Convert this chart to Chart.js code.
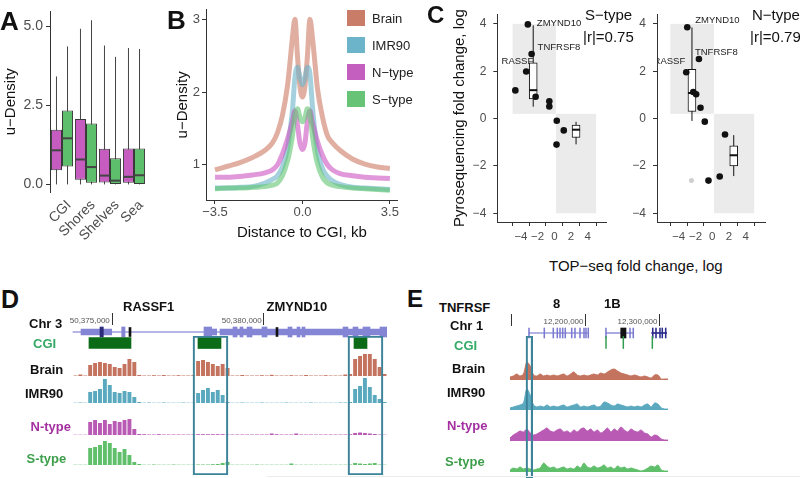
<!DOCTYPE html>
<html>
<head>
<meta charset="utf-8">
<script src="https://cdn.jsdelivr.net/npm/chart.js@4.4.1/dist/chart.umd.min.js"></script>
<style>
  body { margin: 0; width: 800px; height: 478px; position: relative; overflow: hidden; background: #fff;
         font-family: "Liberation Sans", Arial, sans-serif; }
  canvas { position: absolute; }
  .t { position: absolute; white-space: nowrap; line-height: 1; color: #111; }
</style>
</head>
<body>
<script>
// ---- A: u-density per CGI context ----
const regions = ['CGI', 'Shores', 'Shelves', 'Sea'];
const nTypeMin = [0, 0, 0, 0];
const nTypeQ1 = [0.45, 0.15, 0.06, 0.05];
const nTypeMed = [1.08, 0.79, 0.28, 0.24];
const nTypeQ3 = [1.73, 2.07, 1.13, 1.14];
const nTypeMax = [3.42, 4.93, 4.40, 4.32];
const sTypeMin = [0, 0, 0, 0];
const sTypeQ1 = [0.57, 0.05, 0.01, 0.0];
const sTypeMed = [1.46, 0.55, 0.12, 0.29];
const sTypeQ3 = [2.34, 1.93, 0.83, 1.14];
const sTypeMax = [4.37, 5.20, 4.04, 4.29];
const densityTicks = [0, 2.5, 5];

// ---- B: profile around CGI ----
const cgiDistance = [-3.5, -3, -2.5, -2, -1.5, -1.2, -1, -0.8, -0.6, -0.5, -0.4, -0.3, -0.2, -0.1, 0,
                     0.1, 0.2, 0.3, 0.4, 0.5, 0.6, 0.8, 1, 1.2, 1.5, 2, 2.5, 3, 3.5];
const brainDensity = [0.93, 0.98, 1.03, 1.1, 1.2, 1.3, 1.44, 1.68, 2.08, 2.4, 2.75, 3.0, 2.5, 2.08, 1.93,
                      2.08, 2.5, 3.0, 2.75, 2.4, 2.05, 1.66, 1.4, 1.3, 1.2, 1.08, 1.01, 0.97, 0.95];
const imrDensity = [0.68, 0.68, 0.69, 0.7, 0.75, 0.8, 0.85, 0.97, 1.22, 1.45, 1.75, 2.2, 2.34, 2.2, 2.1,
                    2.2, 2.34, 2.25, 1.8, 1.45, 1.2, 0.95, 0.84, 0.78, 0.73, 0.69, 0.68, 0.67, 0.66];
const nDensity = [0.83, 0.83, 0.84, 0.86, 0.89, 0.93, 1.0, 1.15, 1.35, 1.47, 1.6, 1.74, 1.55, 1.3, 1.21,
                  1.3, 1.6, 1.74, 1.58, 1.45, 1.32, 1.13, 1.0, 0.93, 0.88, 0.85, 0.83, 0.82, 0.81];
const sDensity = [0.67, 0.68, 0.68, 0.69, 0.7, 0.72, 0.75, 0.85, 1.05, 1.2, 1.4, 1.68, 1.77, 1.65, 1.59,
                  1.65, 1.77, 1.7, 1.4, 1.18, 1.02, 0.83, 0.75, 0.72, 0.7, 0.68, 0.67, 0.66, 0.65];
const profileYTicks = [1, 2, 3];
const profileXTicks = [-3.5, 0, 3.5];

// ---- C: TOP-seq vs pyrosequencing ----
const sTopSeq = [-4.67, -3.37, -3.17, -2.72, -2.24, -0.6, -0.6, 0.29, 1.13, 0.26];
const sPyro = [1.19, 1.99, 3.98, 2.73, 0.92, 0.73, 0.51, -0.09, -0.5, -1.1];
const sGenes = ['', 'RASSF', 'ZMYND10', 'TNFRSF8', '', '', '', '', '', ''];
const sBoxX = [-2.53, 2.6];
const sBoxMin = [0.5, -1.09], sBoxQ1 = [0.83, -0.8], sBoxMed = [1.2, -0.47], sBoxQ3 = [2.35, -0.28], sBoxMax = [3.94, -0.14];
const nTopSeq = [-3.1, -2.98, -1.59, -2.26, -1.92, -1.4, -0.89, 1.52, 0.89, -0.45];
const nPyro = [1.96, 3.86, 2.52, 1.12, 1.03, 0.46, -0.13, -0.67, -2.45, -2.62];
const nGenes = ['RASSF', 'ZMYND10', 'TNFRSF8', '', '', '', '', '', '', ''];
const nGrayTopSeq = [-2.48], nGrayPyro = [-2.62];
const nBoxX = [-2.42, 2.56];
const nBoxMin = [-0.1, -2.43], nBoxQ1 = [0.3, -2.0], nBoxMed = [1.08, -1.55], nBoxQ3 = [2.08, -1.15], nBoxMax = [3.85, -0.7];
const shadeRegions = [[-5, 0.2, 0.2, 4], [0.2, 5, -4, 0.2]];
const foldTicks = [-4, -2, 0, 2, 4];

// ---- D: RASSF1 / ZMYND10 locus (chr3) ----
const dRange = [50373717, 50384048];
const dRulerRange = [50373289, 50384048];
const dRuler = [50375000, 50380000];
const dGeneLine = [[50373717, 50384048]];
const dGeneBody = [[50373980, 50374990], [50378280, 50378444], [50378553, 50384048]];
const dGeneExon = [[50375319, 50375428], [50378027, 50378280], [50378981, 50379113], [50379211, 50379310],
                   [50379442, 50379606], [50379935, 50380100], [50380790, 50380922], [50381087, 50381185],
                   [50381251, 50381350], [50382600, 50382764], [50382929, 50383093], [50383258, 50383488],
                   [50383817, 50384048]];
const dGeneDark = [[50374605, 50374714]];
const dGeneBlack = [[50375559, 50375625], [50380396, 50380461]];
const dCgi = [[50374243, 50375625], [50377829, 50378586], [50382962, 50383390]];
const dFrames = [[50377665, 50378816], [50382764, 50383916]];
const dBrain = [0.5, 1.5, 0.5, 11, 13, 14, 13, 12, 9, 8, 12, 17, 14, 1, 0.5, 0.5, 0.8, 0.5, 1, 0.5, 0.5, 0.8, 0.5, 0.5, 0.8,
                15, 16, 14, 12, 10, 12, 8, 0.5, 0.5, 1, 0.5, 0.5, 0.5, 0.8, 0.5, 1.2, 0.5, 0.5, 0.5, 0.8, 0.5, 0.5, 1,
                0.5, 0.5, 0.5, 0.8, 0.5, 0.5, 0.5, 1.5, 2, 17, 20, 22, 22, 17, 9, 2];
const dImr = [0.3, 0.5, 0.3, 11, 12, 14, 24, 18, 11, 10, 12, 11, 6, 1, 0.3, 0.5, 0.3, 0.3, 0.5, 0.3, 0.3, 0.3, 0.5, 0.3, 0.3,
              10, 13, 15, 11, 13, 8, 1, 0.3, 0.3, 0.5, 0.3, 0.3, 0.3, 0.5, 0.3, 0.3, 0.3, 0.3, 0.5, 0.3, 0.3, 0.3, 0.3,
              0.5, 0.3, 0.3, 0.3, 0.3, 0.3, 0.5, 0.5, 1, 14, 17, 25, 16, 8, 4, 1];
const dNType = [0.3, 0.3, 0.3, 13, 15, 12, 15, 11, 14, 13, 15, 16, 6, 1, 0.8, 0.5, 0.5, 0.8, 0.5, 0.5, 0.5, 0.5, 0.5, 0.5, 0.5,
                0.8, 0.8, 0.8, 0.8, 0.8, 0.8, 0.5, 0.5, 0.5, 0.5, 0.5, 0.5, 0.5, 0.5, 0.5, 1.5, 0.8, 0.5, 0.5, 0.5, 1.5, 0.5,
                0.5, 0.5, 0.5, 0.5, 0.5, 0.5, 0.5, 0.5, 0.5, 0.8, 2, 2.5, 2, 1.5, 1, 0.5, 0.3];
const dSType = [0.3, 0.3, 0.3, 17, 18, 20, 24, 22, 17, 13, 16, 10, 3, 1, 0.3, 0.3, 0.5, 0.3, 0.3, 0.3, 0.5, 0.3, 0.3, 0.3, 0.3,
                0.5, 0.5, 0.5, 0.8, 1, 2, 3, 0.3, 0.3, 0.3, 0.3, 0.3, 0.5, 0.3, 0.3, 0.3, 0.3, 0.3, 0.3, 1.5, 0.3, 0.3, 0.3,
                0.3, 0.3, 0.3, 0.3, 0.3, 0.3, 0.3, 0.3, 0.5, 2, 1.5, 1, 1.5, 2, 0.5, 0.3];

// ---- E: TNFRSF8 / TNFRSF1B locus (chr1) ----
const eRange = [12097703, 12311218];
const eRuler = [12100000, 12200000, 12300000];
const eRulerLabeled = [12200000, 12300000];
const eGeneLine = [[12123379, 12203517], [12227437, 12264330]];
const eGeneLine3 = [[12289196, 12309467]];
const eGeneMarks = [[12122800, 12124000], [12143450, 12144650], [12155600, 12156800], [12161000, 12162200],
                    [12164700, 12165900], [12168300, 12169500], [12171800, 12173000], [12180500, 12181700],
                    [12184900, 12186100], [12191700, 12192900], [12197100, 12198300], [12199800, 12201000],
                    [12202900, 12204100], [12226800, 12228000], [12259300, 12260500], [12263700, 12264900]];
const eGeneBlack = [[12247303, 12254465]];
const eGeneMarks3 = [[12290000, 12291200], [12294400, 12295600], [12299800, 12301000], [12302900, 12304100],
                     [12307500, 12308700]];
const eCgi = [[12226900, 12228000], [12250300, 12251400], [12289500, 12290600]];
const eFrames = [[12119325, 12128379]];
const eBrain = [3, 4, 6, 4, 6, 18, 14, 5, 4, 6, 4, 5, 4, 5, 4, 5, 6, 4, 6, 8, 5, 4, 5, 4, 5, 6, 5, 7, 6, 8, 10, 11,
                9, 7, 6, 5, 4, 5, 4, 3, 4, 3, 2, 5, 5, 1, 1, 1];
const eImr = [2, 3, 4, 5, 7, 21, 15, 5, 3, 4, 3, 5, 3, 4, 3, 4, 5, 3, 4, 5, 6, 3, 4, 3, 4, 5, 3, 4, 8, 7, 5, 4,
              6, 5, 4, 3, 4, 3, 4, 3, 5, 6, 3, 7, 6, 2, 1, 1];
const eNType = [3, 6, 8, 10, 9, 12, 8, 6, 7, 9, 11, 13, 10, 9, 11, 12, 9, 10, 8, 11, 9, 12, 13, 10, 12, 9, 11, 8,
                10, 13, 9, 12, 10, 14, 11, 9, 12, 10, 9, 11, 8, 7, 4, 6, 5, 2, 1, 1];
const eSType = [2, 4, 3, 5, 3, 4, 3, 2, 3, 4, 9, 6, 4, 5, 3, 4, 5, 3, 4, 3, 6, 4, 9, 5, 4, 6, 4, 5, 7, 4, 5, 3,
                6, 4, 5, 3, 4, 3, 2, 1, 2, 4, 6, 5, 7, 2, 1, 1];

Chart.defaults.font.family = '"Liberation Sans", Arial, sans-serif';
Chart.defaults.color = '#4d4d4d';

const minus = s => String(s).replace('-', '\u2212');
const pairs = (xs, ys) => xs.map((x, i) => ({x, y: ys[i]}));
const commas = v => String(v).replace(/\B(?=(\d{3})+(?!\d))/g, ',');

function mk(x, y, w, h) {
  const c = document.createElement('canvas');
  c.width = w; c.height = h;
  c.style.left = x + 'px'; c.style.top = y + 'px';
  document.body.appendChild(c);
  return c;
}

function txt(s, x, y, size, css) {
  const d = document.createElement('div');
  d.className = 't';
  d.textContent = s;
  d.style.cssText = `left:${x}px;top:${y - size * 0.49}px;font-size:${size}px;` + (css || '');
  document.body.appendChild(d);
}

function common(pad) {
  return {
    responsive: false, animation: false, events: [],
    layout: {autoPadding: false, padding: pad || 0},
    plugins: {legend: {display: false}, tooltip: {enabled: false}}
  };
}

function axis(extra) {
  return Object.assign({
    border: {display: true, color: '#333', width: 1},
    grid: {display: true, drawOnChartArea: false, tickLength: 4, color: '#333'},
  }, extra);
}

// whiskers behind boxes, medians on top
function drawWhisk(chart, medians) {
  const ctx = chart.ctx;
  chart.data.datasets.forEach((ds, di) => {
    if (!ds.whisk) return;
    const meta = chart.getDatasetMeta(di);
    const y = chart.scales[meta.yAxisID];
    ctx.save();
    ctx.strokeStyle = ds.whisk.color;
    meta.data.forEach((bar, i) => {
      const hw = bar.width / 2;
      ctx.beginPath();
      if (medians) {
        ctx.lineWidth = 2;
        const my = y.getPixelForValue(ds.whisk.med[i]);
        ctx.moveTo(bar.x - hw, my); ctx.lineTo(bar.x + hw, my);
      } else {
        ctx.lineWidth = 1;
        ctx.moveTo(bar.x, y.getPixelForValue(ds.whisk.max[i]));
        ctx.lineTo(bar.x, y.getPixelForValue(ds.whisk.min[i]));
      }
      ctx.stroke();
    });
    ctx.restore();
  });
}
const whiskerPlugin = {
  id: 'whiskers',
  beforeDatasetsDraw: c => drawWhisk(c, false),
  afterDatasetsDraw: c => drawWhisk(c, true)
};

const shadePlugin = {
  id: 'shade',
  beforeDraw(chart) {
    const {ctx, scales: {x, y}} = chart;
    ctx.save();
    ctx.fillStyle = '#ebebeb';
    shadeRegions.forEach(([x0, x1, y0, y1]) => {
      const px0 = x.getPixelForValue(x0), px1 = x.getPixelForValue(x1);
      const py0 = y.getPixelForValue(y0), py1 = y.getPixelForValue(y1);
      ctx.fillRect(px0, py1, px1 - px0, py0 - py1);
    });
    ctx.restore();
  }
};

const tagPlugin = {
  id: 'tags',
  afterDatasetsDraw(chart) {
    const {ctx, chartArea: a} = chart;
    chart.data.datasets.forEach((ds, di) => {
      if (!ds.tags) return;
      const meta = chart.getDatasetMeta(di);
      ctx.save();
      ctx.beginPath(); ctx.rect(a.left, a.top, a.right - a.left, a.bottom - a.top); ctx.clip();
      ctx.font = '9.5px "Liberation Sans", Arial, sans-serif';
      ctx.fillStyle = '#222';
      ctx.textBaseline = 'middle';
      ds.tags.forEach((t, i) => {
        if (!t) return;
        const [dx, dy, align] = ds.tagPos[t];
        ctx.textAlign = align;
        ctx.fillText(t, meta.data[i].x + dx, meta.data[i].y + dy);
      });
      ctx.restore();
    });
  }
};

// ---------- panel A ----------
new Chart(mk(0, 0, 150, 250), {
  type: 'bar',
  data: {
    labels: regions,
    datasets: [
      {data: regions.map((r, i) => [nTypeQ1[i], nTypeQ3[i]]), backgroundColor: '#c65cc0', borderColor: '#3a3a3a',
       borderWidth: 1, borderSkipped: false, categoryPercentage: 0.92, barPercentage: 1,
       whisk: {min: nTypeMin, med: nTypeMed, max: nTypeMax, color: '#444'}},
      {data: regions.map((r, i) => [sTypeQ1[i], sTypeQ3[i]]), backgroundColor: '#5dbf6c', borderColor: '#3a3a3a',
       borderWidth: 1, borderSkipped: false, categoryPercentage: 0.92, barPercentage: 1,
       whisk: {min: sTypeMin, med: sTypeMed, max: sTypeMax, color: '#444'}}
    ]
  },
  plugins: [whiskerPlugin],
  options: Object.assign(common({right: 4}), {
    scales: {
      x: {grid: {display: false}, border: {display: false},
          ticks: {font: {size: 14}, minRotation: 45, maxRotation: 45, autoSkip: false, padding: -3, labelOffset: 7},
          afterFit: s => { s.height = 58; }},
      y: axis({min: -0.24, max: 5.48,
          afterBuildTicks: s => { s.ticks = densityTicks.map(v => ({value: v})); },
          ticks: {font: {size: 14}, padding: 3, callback: v => v.toFixed(1)},
          title: {display: true, text: 'u\u2212Density', color: '#111', font: {size: 15}, padding: {top: 2, bottom: 0}},
          afterFit: s => { s.width = 50; }})
    }
  })
});

// ---------- panel B ----------
const profileSeries = [
  ['Brain', brainDensity, 'rgba(204,122,100,0.6)', '#c97d69', 4],
  ['IMR90', imrDensity, 'rgba(105,178,202,0.6)', '#6cb4c9', 3],
  ['N\u2212type', nDensity, 'rgba(204,84,194,0.6)', '#c45fbf', 2],
  ['S\u2212type', sDensity, 'rgba(95,196,112,0.6)', '#67c476', 1]
];
new Chart(mk(170, 0, 230, 250), {
  type: 'line',
  data: {datasets: profileSeries.map(([label, ys, color, key, order]) => ({
    label, data: pairs(cgiDistance, ys), borderColor: color, order
  }))},
  options: Object.assign(common({right: 2}), {
    elements: {point: {radius: 0}, line: {borderWidth: 5, cubicInterpolationMode: 'monotone'}},
    scales: {
      x: axis({type: 'linear', min: -3.86, max: 3.82,
          afterBuildTicks: s => { s.ticks = profileXTicks.map(v => ({value: v})); },
          ticks: {font: {size: 13}, padding: 1, callback: v => minus(v.toFixed(1))},
          title: {display: true, text: 'Distance to CGI, kb', color: '#111', font: {size: 15}, padding: {top: 0, bottom: 8}},
          afterFit: s => { s.height = 50; }}),
      y: axis({min: 0.516, max: 3.13,
          afterBuildTicks: s => { s.ticks = profileYTicks.map(v => ({value: v})); },
          ticks: {font: {size: 13}, padding: 2},
          title: {display: true, text: 'u\u2212Density', color: '#111', font: {size: 15}, padding: {top: 4, bottom: 0}},
          afterFit: s => { s.width = 36; }})
    }
  })
});
profileSeries.forEach(([label, ys, color, key], i) => {
  const d = document.createElement('div');
  d.style.cssText = `position:absolute;left:347px;top:${10 + i * 27}px;width:18px;height:16px;background:${key}`;
  document.body.appendChild(d);
  txt(label, 372, 18 + i * 27, 13, 'color:#222');
});

// ---------- panel C ----------
function foldPanel(cfg) {
  new Chart(mk(cfg.left, 0, cfg.width, 250), {
    type: 'scatter',
    data: {datasets: [
      {data: pairs(cfg.px, cfg.py), backgroundColor: '#111', borderWidth: 0, pointRadius: 3.3,
       tags: cfg.tags, tagPos: cfg.tagPos},
      {data: pairs(cfg.gx || [], cfg.gy || []), backgroundColor: '#cfcfcf', borderWidth: 0, pointRadius: 2.5},
      {type: 'bar', data: cfg.box.x.map((x, i) => ({x, y: [cfg.box.q1[i], cfg.box.q3[i]]})),
       backgroundColor: '#fff', borderColor: '#111', borderWidth: 1, borderSkipped: false, barThickness: 8,
       whisk: {min: cfg.box.min, med: cfg.box.med, max: cfg.box.max, color: '#111'}}
    ]},
    plugins: [shadePlugin, whiskerPlugin, tagPlugin],
    options: Object.assign(common({right: cfg.padR}), {
      scales: {
        x: axis({type: 'linear', min: cfg.xMin, max: cfg.xMax,
            afterBuildTicks: s => { s.ticks = foldTicks.map(v => ({value: v})); },
            ticks: {font: {size: 11.5}, padding: 4, callback: v => minus(v)},
            afterFit: s => { s.height = 28; }}),
        y: axis({min: -4.37, max: 4.41,
            afterBuildTicks: s => { s.ticks = foldTicks.map(v => ({value: v})); },
            ticks: {font: {size: 12}, padding: 7, callback: v => minus(v)},
            title: {display: cfg.title, text: 'Pyrosequencing fold change, log', color: '#111', font: {size: 15},
                    padding: {top: 1, bottom: 0}},
            afterFit: s => { s.width = cfg.yW; }})
      }
    })
  });
}
foldPanel({left: 450, width: 160, yW: 47.3, padR: 3.3, xMin: -5.52, xMax: 4.96, title: true,
  px: sTopSeq, py: sPyro, tags: sGenes,
  tagPos: {RASSF: [7, -10.5, 'right'], ZMYND10: [9, -1.5, 'left'], TNFRSF8: [6, -7, 'left']},
  box: {x: sBoxX, min: sBoxMin, q1: sBoxQ1, med: sBoxMed, q3: sBoxQ3, max: sBoxMax}});
foldPanel({left: 620, width: 150, yW: 37, padR: 5, xMin: -5.3, xMax: 5.0, title: false,
  px: nTopSeq, py: nPyro, gx: nGrayTopSeq, gy: nGrayPyro, tags: nGenes,
  tagPos: {RASSF: [-1, -11, 'right'], ZMYND10: [8, -6.5, 'left'], TNFRSF8: [-4, -7, 'left']},
  box: {x: nBoxX, min: nBoxMin, q1: nBoxQ1, med: nBoxMed, q3: nBoxQ3, max: nBoxMax}});

// ---------- genome browser tracks (D, E) ----------
function blockChart(x, y, w, h, range, layers, ruler) {
  const scaleX = {type: 'linear', min: range[0], max: range[1], display: false};
  if (ruler) Object.assign(scaleX, {
    display: true, position: 'top',
    border: {display: false},
    grid: {display: true, drawOnChartArea: false, tickLength: 12, color: '#333'},
    afterBuildTicks: s => { s.ticks = ruler.ticks.map(v => ({value: v})); },
    ticks: {align: 'end', padding: -13, maxRotation: 0, color: '#555', font: {size: 8},
            callback: v => ruler.labeled.includes(v) ? commas(v) + ' ' : ''},
    afterFit: s => { s.height = 14; }
  });
  new Chart(mk(x, y, w, h), {
    type: 'bar',
    data: {labels: ['g'], datasets: layers.map(l => ({
      data: l.blocks.map(b => ({x: b, y: 'g'})),
      backgroundColor: l.fill || 'rgba(0,0,0,0)', borderColor: l.stroke || 'rgba(0,0,0,0)',
      borderWidth: l.stroke ? 1.5 : 0, borderSkipped: false, barThickness: l.h, grouped: false
    }))},
    options: Object.assign(common(), {indexAxis: 'y', scales: {x: scaleX, y: {display: false}}})
  });
}

function trackChart(x, y, w, vals, color, kind) {
  new Chart(mk(x, y, w, 25), {
    type: kind,
    data: {labels: vals.map((v, i) => i), datasets: [{
      data: vals, backgroundColor: color, borderColor: color, borderWidth: kind === 'line' ? 1 : 0,
      fill: 'origin', pointRadius: 0, tension: 0.3, barPercentage: 0.8, categoryPercentage: 1
    }]},
    options: Object.assign(common(), {scales: {x: {display: false}, y: {display: false, min: 0, max: 25}}})
  });
}

const trackColors = {brain: '#c4735e', imr: '#5aa9bf', n: '#b95ab5', s: '#5fbf6a'};

// D
blockChart(60, 311, 327, 28, dRulerRange, [
  {blocks: dGeneDark, fill: '#2b2b7a', h: 10},
  {blocks: dGeneBlack, fill: '#111', h: 9},
  {blocks: dGeneExon, fill: '#8585d6', h: 10},
  {blocks: dGeneBody, fill: '#8585d6', h: 6},
  {blocks: dGeneLine, fill: '#9c9ce0', h: 1}
], {ticks: dRuler, labeled: dRuler});
blockChart(73, 337, 314, 12, dRange, [{blocks: dCgi, fill: '#0b6b16', h: 11}]);
trackChart(73, 351, 314, dBrain, trackColors.brain, 'bar');
trackChart(73, 378, 314, dImr, trackColors.imr, 'bar');
trackChart(73, 410, 314, dNType, trackColors.n, 'bar');
trackChart(73, 440, 314, dSType, trackColors.s, 'bar');
blockChart(73, 336, 314, 139, dRange, [{blocks: dFrames, stroke: '#3c8299', h: 139}]);

// E
blockChart(510, 312, 158, 28, eRange, [
  {blocks: eGeneBlack, fill: '#111', h: 10},
  {blocks: eGeneMarks3, fill: '#2a2a8c', h: 10},
  {blocks: eGeneMarks, fill: '#7a7ad0', h: 10},
  {blocks: eGeneLine3, fill: '#2a2a8c', h: 1},
  {blocks: eGeneLine, fill: '#9a9ade', h: 1}
], {ticks: eRuler, labeled: eRulerLabeled});
blockChart(510, 336, 158, 13, eRange, [{blocks: eCgi, fill: '#2e9e4e', h: 12}]);
trackChart(510, 355, 158, eBrain, trackColors.brain, 'line');
trackChart(510, 385, 158, eImr, trackColors.imr, 'line');
trackChart(510, 416, 158, eNType, trackColors.n, 'line');
trackChart(510, 447, 158, eSType, trackColors.s, 'line');
blockChart(510, 336, 158, 142, eRange, [{blocks: eFrames, stroke: '#3c8299', h: 142}]);

// ---------- text ----------
const B = 'font-weight:bold;';
txt('A', 0, 21, 26, B);
txt('B', 167, 20, 26, B);
txt('C', 427, 15, 24, B);
txt('D', 1, 299, 25, B);
txt('E', 407, 299, 24, B);

txt('S\u2212type', 585, 14, 15);
txt('|r|=0.75', 583, 36, 15);
txt('N\u2212type', 752, 14, 15);
txt('|r|=0.79', 750, 36, 15);
txt('TOP\u2212seq fold change, log', 549, 265, 15);

txt('RASSF1', 123, 306.5, 13, B);
txt('ZMYND10', 266.5, 306.5, 13, B);
txt('Chr 3', 29, 323, 13, B);
txt('CGI', 33, 343, 13, B + 'color:#33aa66');
txt('Brain', 30, 369, 13, B);
txt('IMR90', 25, 393, 13, B);
txt('N-type', 30.5, 426, 13, B + 'color:#a32fa0');
txt('S-type', 26.5, 458, 13, B + 'color:#3d9e4b');

txt('TNFRSF', 439, 307, 13, B);
txt('8', 553, 303, 13, B);
txt('1B', 604, 303, 13, B);
txt('Chr 1', 450, 325, 13, B);
txt('CGI', 454, 345, 13, B + 'color:#33aa66');
txt('Brain', 452, 368, 13, B);
txt('IMR90', 447, 392, 13, B);
txt('N-type', 447, 425, 13, B + 'color:#a32fa0');
txt('S-type', 445, 461, 13, B + 'color:#3d9e4b');

const rule = document.createElement('div');
rule.style.cssText = 'position:absolute;left:267px;top:476px;width:533px;height:1px;background:#ececec';
document.body.appendChild(rule);
</script>
</body>
</html>
